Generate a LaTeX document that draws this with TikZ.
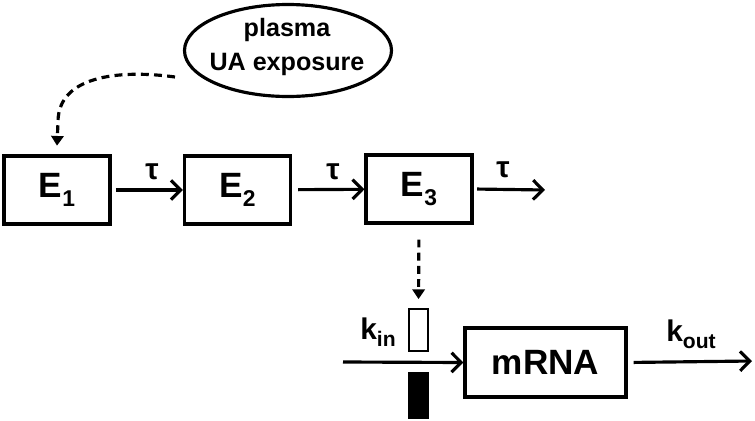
\documentclass[tikz,border=0pt]{standalone}
\usepackage{fontspec}
\setmainfont{Liberation Sans}
\usetikzlibrary{arrows.meta,shapes.geometric}

\newcommand{\lowsub}[2]{\raisebox{-0.45ex}{\fontsize{#1}{#1}\selectfont #2}}

\tikzset{
  compartment/.style={draw,line width=1.8pt,minimum width=2.12cm,minimum height=1.36cm,
    inner sep=0pt,font=\bfseries\fontsize{20}{22}\selectfont},
  ratelabel/.style={inner sep=0pt,font=\bfseries\fontsize{17}{18}\selectfont},
  flow/.style={line width=1.8pt,-{Straight Barb[length=5.5pt,width=11pt]}},
  effect/.style={line width=1.8pt,dash pattern=on 4.5pt off 3pt,-{Triangle[length=5.5pt,width=7pt]}}
}

\begin{document}
\begin{tikzpicture}[x=0.02cm,y=-0.02cm]
  \useasboundingbox (0,0) rectangle (755,420);
  % exposure driver
  \node[inner sep=0pt,align=center,font=\bfseries\fontsize{14.3}{19}\selectfont]
    (plasma) at (287,47) {plasma\\UA exposure};
  \draw[line width=1.8pt] (288,50.5) ellipse [x radius=103.5,y radius=46];
  \coordinate (plasmaOut) at (175,77);
  % transit compartments
  \node[compartment] (E1) at (57,190) {E\lowsub{13}{1}};
  \node[compartment] (E2) at (237.5,190) {E\lowsub{13}{2}};
  \node[compartment] (E3) at (419,189) {E\lowsub{13}{3}};
  \coordinate (E3out) at (545,190);
  \node[ratelabel] (tau1) at (152,172) {τ};
  \node[ratelabel] (tau2) at (333,172) {τ};
  \node[ratelabel] (tau3) at (503,170) {τ};
  % transit arrows
  \draw[flow,shorten <=2.5pt] (E1) -- (E2);
  \draw[flow,shorten <=3.5pt] (E2) -- (E3);
  \draw[flow,shorten <=2pt] (E3.east) -- (E3out);
  \draw[effect] (plasmaOut) to[out=172,in=90] (58,122) -- ([yshift=5pt]E1.north);
  % mRNA turnover
  \node[draw,line width=1.8pt,minimum width=3.22cm,minimum height=1.38cm,inner sep=0pt,
    font=\bfseries\fontsize{20}{22}\selectfont] (mRNA) at (545.5,362.5) {mRNA};
  \node[draw,line width=1.3pt,fill=white,minimum width=0.38cm,minimum height=0.84cm,
    inner sep=0pt] (stim) at (418.5,330) {};
  \node[draw,line width=1.3pt,fill=black,minimum width=0.38cm,minimum height=0.9cm,
    inner sep=0pt] (inhib) at (418.5,395.5) {};
  \coordinate (kinIn) at (343,362);
  \coordinate (koutOut) at (752,361);
  \node[ratelabel] (kin) at (378,332) {k\lowsub{12}{in}};
  \node[ratelabel] (kout) at (691,334) {k\lowsub{12}{out}};
  \draw[flow] (kinIn) -- (mRNA.west);
  \draw[flow,shorten <=3.5pt] (mRNA.east) -- (koutOut);
  \draw[effect,shorten <=8.5pt,shorten >=5pt] (E3.south) -- (stim.north);
\end{tikzpicture}
\end{document}
